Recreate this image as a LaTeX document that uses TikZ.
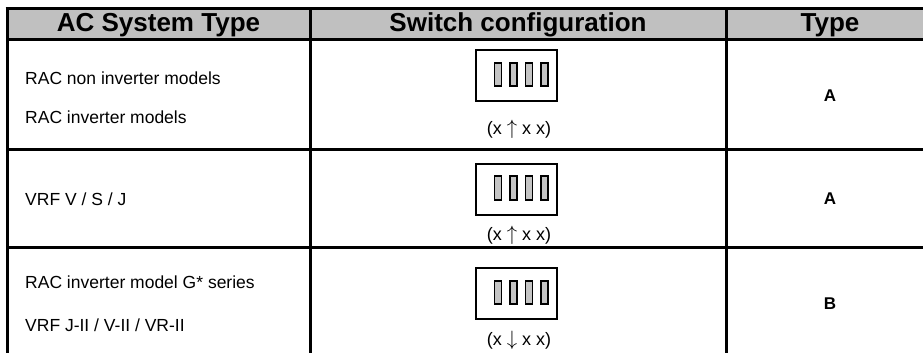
\documentclass[tikz,border=0pt]{standalone}
\usepackage{fontspec}
\setmainfont{Liberation Sans}
\usepackage{tikz}
\usetikzlibrary{positioning}
\usepackage{xcolor}
\definecolor{hdrgray}{RGB}{192,192,192}
\definecolor{slotgray}{RGB}{196,196,196}
\tikzstyle{grid} = [line width=3pt, color=black]
\tikzstyle{hdr} = [font=\fontsize{26}{30}\selectfont\bfseries, inner sep=0pt]
\tikzstyle{cell} = [font=\fontsize{17.5}{20}\selectfont, anchor=west, inner sep=0pt]
\tikzstyle{typecell} = [font=\fontsize{17}{20}\selectfont\bfseries, inner sep=0pt]
\tikzstyle{swbox} = [draw, line width=2pt, minimum width=81pt, minimum height=51pt, inner sep=0pt]
\tikzstyle{slot} = [draw, line width=1.8pt, fill=slotgray, minimum width=7pt, minimum height=23.5pt, inner sep=0pt]
\tikzstyle{swcode} = [font=\fontsize{18}{21}\selectfont, inner sep=0pt]
\newcommand{\dirarrow}[1]{{\fontsize{21}{21}\selectfont$#1$}}

\begin{document}
\begin{tikzpicture}[x=1pt, y=-1pt]
\useasboundingbox (0,0) rectangle (923,353);

% Header band
\fill[hdrgray] (7,9) rectangle (923,40);
\node[hdr] (hdrsys) at (158.5,25) {AC System Type};
\node[hdr] (hdrsw) at (518,25) {Switch configuration};
\node[hdr] (hdrtype) at (830,25) {Type};

% Table rules
\draw[grid] (5.5,9) -- (923,9);
\draw[grid] (7,40) -- (923,40);
\draw[grid] (7,149) -- (923,149);
\draw[grid] (7,247) -- (923,247);
\draw[grid] (7,9) -- (7,353);
\draw[grid] (310,9) -- (310,353);
\draw[grid] (726,9) -- (726,353);

% AC system column
\node[cell] (sysnoninv) at (25,78) {RAC non inverter models};
\node[cell] (sysinv) at (25,117) {RAC inverter models};
\node[cell] (sysvrf) at (25,199) {VRF V / S / J};
\node[cell] (sysgser) at (25,282) {RAC inverter model G* series};
\node[cell] (sysvrfii) at (25,325) {VRF J-II / V-II / VR-II};

% Switch blocks
\node[swbox] (swone) at (516.5,75.5) {};
\node[swbox] (swtwo) at (516.5,189) {};
\node[swbox] (swthree) at (516.5,293.5) {};
\foreach \sw in {swone,swtwo,swthree}
  \foreach \dx in {-18.5,-3,12.5,28}
    \node[slot] at ([xshift=\dx pt, yshift=1pt]\sw.center) {};

\node[swcode] (codeone) at (519,129) {(x \dirarrow{\uparrow} x x)};
\node[swcode] (codetwo) at (519,235) {(x \dirarrow{\uparrow} x x)};
\node[swcode] (codethree) at (519,340) {(x \dirarrow{\downarrow} x x)};

% Type column
\node[typecell] (typeone) at (830,96) {A};
\node[typecell] (typetwo) at (830,199) {A};
\node[typecell] (typethree) at (830,304) {B};
\end{tikzpicture}
\end{document}
